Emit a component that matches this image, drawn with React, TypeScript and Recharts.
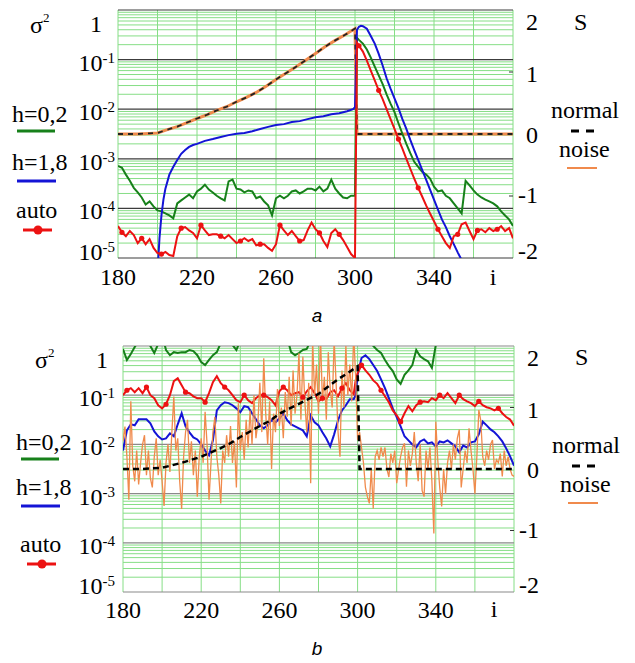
import React from "react";
import { ComposedChart, Line, XAxis, YAxis, ReferenceLine } from "recharts";

const serif = "Liberation Serif, Times New Roman, Tinos, serif";

const GREEN = "#17801a";
const BLUE = "#1414d6";
const RED = "#ec1212";
const ORANGE = "#f08a4c";
const GRID = "#86de86";

const xGrid = [180, 200, 220, 240, 260, 280, 300, 320, 340, 360, 380];
const xLabels = [180, 220, 260, 300, 340];
const logTicks = [1, 0.1, 0.01, 0.001, 1e-4, 1e-5];
const decades = [1e-5, 1e-4, 1e-3, 1e-2, 1e-1];
const minorSteps = [2, 3, 4, 5, 6, 7, 8, 9];
const sTicks = [-2, -1, 0, 1, 2];

// ---- panel a (no noise) : [i, value]
const greenA = [
  [180, 7.2e-4], [182, 6.6e-4], [184, 4.8e-4], [186, 3.6e-4], [188, 2.6e-4], [190, 2.1e-4], [192, 1.66e-4],
  [194, 1.2e-4], [196, 1.38e-4], [198, 1.1e-4], [200, 9.1e-5], [202, 8.7e-5], [204, 7.9e-5], [206, 7.2e-5],
  [208, 6.3e-5], [210, 1.26e-4], [212, 1.45e-4], [214, 1.66e-4], [216, 1.9e-4], [218, 1.6e-4], [220, 2.2e-4],
  [222, 2.5e-4], [224, 3.0e-4], [226, 2.4e-4], [228, 2.1e-4], [230, 1.8e-4], [232, 1.6e-4], [234, 1.45e-4],
  [236, 3.5e-4], [238, 3.8e-4], [240, 2.5e-4], [242, 2.4e-4], [244, 2.1e-4], [246, 2.3e-4], [248, 2.2e-4],
  [250, 1.6e-4], [252, 1.74e-4], [254, 1.38e-4], [256, 1.15e-4], [258, 7.2e-5], [260, 1.6e-4], [262, 1.8e-4],
  [264, 1.6e-4], [266, 1.8e-4], [268, 2.2e-4], [270, 2.3e-4], [272, 2.0e-4], [274, 2.2e-4], [276, 2.5e-4],
  [278, 2.5e-4], [280, 2.3e-4], [282, 2.75e-4], [284, 2.2e-4], [286, 2.5e-4], [288, 3.8e-4], [290, 2.5e-4],
  [292, 2.0e-4], [294, 1.66e-4], [296, 1.6e-4], [298, 1.8e-4], [300, 1.8e-4], [301, 0.275], [302, 0.25],
  [304, 0.21], [306, 0.16], [308, 0.11], [310, 0.072], [312, 0.048], [314, 0.032], [316, 0.02], [318, 0.013],
  [320, 8.7e-3], [322, 5.2e-3], [324, 3.2e-3], [326, 2.0e-3], [328, 1.3e-3], [330, 8.7e-4], [332, 6.9e-4],
  [334, 5.5e-4], [336, 4.8e-4], [338, 4.0e-4], [340, 2.75e-4], [342, 2.2e-4], [344, 2.3e-4], [346, 1.8e-4],
  [348, 1.6e-4], [350, 1.26e-4], [352, 1.0e-4], [354, 7.9e-5], [356, 3.6e-4], [358, 2.9e-4], [360, 2.3e-4],
  [362, 1.9e-4], [364, 1.66e-4], [366, 1.5e-4], [368, 1.38e-4], [370, 1.26e-4], [372, 1.1e-4], [374, 8.7e-5],
  [376, 7.2e-5], [378, 6.0e-5], [380, 4.4e-5],
];

const blueA = [
  [200, 5e-6], [201, 2.5e-5], [202, 7.2e-5], [203, 1.5e-4], [204, 2.5e-4], [206, 4.8e-4], [208, 6.9e-4],
  [210, 9.5e-4], [212, 1.26e-3], [214, 1.5e-3], [216, 1.74e-3], [218, 1.9e-3], [220, 2.0e-3], [224, 2.3e-3],
  [228, 2.5e-3], [232, 2.75e-3], [236, 3.0e-3], [240, 3.2e-3], [244, 3.3e-3], [248, 3.6e-3], [252, 4.0e-3],
  [256, 4.4e-3], [260, 4.8e-3], [264, 5.0e-3], [268, 5.5e-3], [272, 5.75e-3], [276, 6.3e-3], [280, 6.9e-3],
  [284, 7.2e-3], [288, 7.9e-3], [292, 8.3e-3], [296, 9.1e-3], [299, 1.0e-2], [300, 1.1e-2], [301, 0.4],
  [302, 0.46], [303, 0.48], [304, 0.47], [306, 0.42], [308, 0.3], [310, 0.21], [312, 0.13], [314, 0.076],
  [316, 0.042], [318, 0.026], [320, 0.0166], [322, 0.0105], [324, 6.3e-3], [326, 4.0e-3], [328, 2.4e-3],
  [330, 1.5e-3], [332, 9.5e-4], [334, 6.0e-4], [336, 3.8e-4], [338, 2.4e-4], [340, 1.5e-4], [342, 9.5e-5],
  [344, 6.0e-5], [346, 4.2e-5], [348, 2.75e-5], [350, 1.9e-5], [352, 1.3e-5], [354, 9.1e-6], [356, 6.3e-6],
  [358, 4.4e-6], [360, 3.0e-6],
];

const redA = [
  [180, 4.4e-5], [182, 3.3e-5], [184, 2.75e-5], [186, 3.5e-5], [188, 2.9e-5], [190, 2.0e-5], [192, 2.5e-5],
  [194, 1.9e-5], [196, 2.4e-5], [198, 1.6e-5], [200, 1.26e-5], [202, 1.2e-5], [204, 1.32e-5], [206, 1.15e-5],
  [208, 1.1e-5], [210, 2.75e-5], [212, 4.0e-5], [214, 4.2e-5], [216, 3.6e-5], [218, 3.2e-5], [220, 2.5e-5],
  [222, 4.6e-5], [224, 3.6e-5], [226, 2.9e-5], [228, 3.0e-5], [230, 3.0e-5], [232, 2.75e-5], [234, 2.5e-5],
  [236, 2.9e-5], [238, 2.4e-5], [240, 2.0e-5], [242, 2.2e-5], [244, 2.5e-5], [246, 2.2e-5], [248, 2.4e-5],
  [250, 1.8e-5], [252, 1.9e-5], [254, 1.9e-5], [256, 1.6e-5], [258, 1.4e-5], [260, 1.9e-5], [262, 4.6e-5],
  [264, 3.6e-5], [266, 2.9e-5], [268, 3.5e-5], [270, 2.75e-5], [272, 2.2e-5], [274, 2.3e-5], [276, 3.6e-5],
  [278, 5.2e-5], [280, 3.8e-5], [282, 3.2e-5], [284, 2.2e-5], [286, 1.66e-5], [288, 3.2e-5], [290, 3.8e-5],
  [292, 3.0e-5], [294, 2.3e-5], [296, 1.66e-5], [298, 1.2e-5], [300, 1.0e-5], [301, 0.22], [302, 0.19],
  [304, 0.145], [306, 0.095], [308, 0.06], [310, 0.038], [312, 0.024], [314, 0.016], [316, 0.01], [318, 6.3e-3],
  [320, 4.0e-3], [322, 2.5e-3], [324, 1.6e-3], [326, 1.0e-3], [328, 6.3e-4], [330, 4.0e-4], [332, 2.6e-4],
  [334, 1.74e-4], [336, 1.15e-4], [338, 7.9e-5], [340, 5.5e-5], [342, 3.8e-5], [344, 2.75e-5], [346, 2.0e-5],
  [348, 1.6e-5], [350, 2.75e-5], [352, 3.0e-5], [354, 4.8e-5], [356, 5.2e-5], [358, 3.5e-5], [360, 2.4e-5],
  [362, 3.6e-5], [364, 3.8e-5], [366, 3.3e-5], [368, 4.0e-5], [370, 3.5e-5], [372, 3.8e-5], [374, 4.4e-5],
  [376, 3.5e-5], [378, 4.0e-5], [380, 2.5e-5],
];

const normalA = [
  [180, 0], [190, 0], [196, 0.01], [200, 0.016], [205, 0.07], [210, 0.12], [215, 0.185], [220, 0.25],
  [225, 0.31], [230, 0.38], [235, 0.44], [240, 0.52], [245, 0.59], [250, 0.67], [255, 0.77], [260, 0.88],
  [265, 0.98], [270, 1.08], [275, 1.19], [280, 1.3], [285, 1.41], [290, 1.51], [295, 1.6], [300, 1.7],
  [301, 0], [380, 0],
];
// in panel a the noise trace lies on top of the normal one
const noiseA = normalA;

// ---- panel b (with noise)
const greenB = [
  [180, 0.87], [182, 0.52], [184, 0.69], [186, 0.95], [188, 1.3], [190, 1.7], [192, 1.6], [194, 1.0],
  [196, 0.72], [198, 1.1], [200, 1.7], [202, 0.83], [204, 0.65], [206, 0.75], [208, 0.72], [210, 0.75],
  [212, 0.75], [214, 0.83], [216, 0.79], [218, 0.65], [220, 0.47], [222, 0.41], [224, 0.52], [226, 0.65],
  [228, 0.75], [230, 1.15], [232, 1.7], [234, 1.7], [236, 1.05], [238, 0.83], [240, 1.3], [242, 1.7],
  [250, 2], [258, 2], [264, 1.45], [266, 0.75], [268, 0.65], [270, 0.72], [272, 0.83], [274, 0.87],
  [276, 1.3], [278, 1.7], [290, 2], [304, 2], [306, 1.45], [308, 1.0], [310, 0.83], [312, 0.72],
  [314, 0.52], [316, 0.39], [318, 0.31], [320, 0.21], [322, 0.17], [324, 0.26], [326, 0.32], [328, 0.41],
  [330, 0.83], [332, 0.62], [334, 0.54], [336, 0.49], [338, 0.36], [340, 1.05], [342, 1.7], [360, 2], [380, 2],
];

const blueB = [
  [180, 0.0075], [182, 0.0193], [184, 0.0256], [186, 0.0244], [188, 0.0324], [190, 0.0324], [192, 0.0324],
  [194, 0.0268], [196, 0.0184], [198, 0.0146], [200, 0.0126], [202, 0.0132], [204, 0.0168], [206, 0.0146],
  [208, 0.0256], [210, 0.043], [212, 0.0233], [214, 0.0176], [216, 0.0139], [218, 0.0126], [220, 0.01],
  [222, 0.0075], [224, 0.006], [226, 0.0121], [228, 0.049], [230, 0.0625], [232, 0.072], [234, 0.069],
  [236, 0.0625], [238, 0.054], [240, 0.045], [242, 0.06], [244, 0.057], [246, 0.043], [248, 0.0324],
  [250, 0.0244], [252, 0.0212], [254, 0.0244], [256, 0.031], [258, 0.028], [260, 0.034], [262, 0.043],
  [264, 0.031], [266, 0.0256], [268, 0.0233], [270, 0.0212], [272, 0.0193], [274, 0.0146], [276, 0.039],
  [278, 0.028], [280, 0.0244], [282, 0.0176], [284, 0.0132], [286, 0.0091], [288, 0.016], [290, 0.031],
  [292, 0.049], [294, 0.0625], [296, 0.083], [298, 0.083], [299, 0.1], [300, 0.256], [302, 0.57], [304, 0.65],
  [306, 0.54], [308, 0.41], [310, 0.31], [312, 0.21], [314, 0.139], [316, 0.087], [318, 0.054], [320, 0.036],
  [322, 0.0233], [324, 0.0146], [326, 0.0121], [328, 0.01], [330, 0.0087], [332, 0.0115], [334, 0.0126],
  [336, 0.0105], [338, 0.011], [340, 0.0091], [342, 0.0115], [344, 0.011], [346, 0.0121], [348, 0.0105],
  [350, 0.0091], [352, 0.0069], [354, 0.0095], [356, 0.0087], [358, 0.011], [360, 0.0115], [362, 0.016],
  [364, 0.029], [366, 0.0244], [368, 0.0202], [370, 0.0176], [372, 0.0146], [374, 0.0115], [376, 0.0083],
  [378, 0.0057], [380, 0.0037],
];

const redB = [
  [180, 0.1], [182, 0.126], [184, 0.139], [186, 0.115], [188, 0.139], [190, 0.11], [192, 0.146], [194, 0.1],
  [196, 0.087], [198, 0.0625], [200, 0.054], [202, 0.0655], [204, 0.1], [206, 0.193], [208, 0.222], [210, 0.16],
  [212, 0.115], [214, 0.11], [216, 0.095], [218, 0.087], [220, 0.087], [222, 0.072], [224, 0.11], [226, 0.184],
  [228, 0.244], [230, 0.176], [232, 0.146], [234, 0.126], [236, 0.1], [238, 0.079], [240, 0.072], [242, 0.1],
  [244, 0.079], [246, 0.069], [248, 0.087], [250, 0.1], [252, 0.1], [254, 0.091], [256, 0.079], [258, 0.0625],
  [260, 0.12], [262, 0.146], [264, 0.126], [266, 0.1], [268, 0.11], [270, 0.115], [272, 0.091], [274, 0.12],
  [276, 0.146], [278, 0.11], [280, 0.075], [282, 0.087], [284, 0.083], [286, 0.115], [288, 0.126], [290, 0.095],
  [292, 0.139], [294, 0.176], [296, 0.126], [298, 0.105], [299, 0.2], [300, 0.28], [302, 0.41], [304, 0.32],
  [306, 0.26], [308, 0.2], [310, 0.17], [312, 0.126], [314, 0.095], [316, 0.072], [318, 0.049], [320, 0.039],
  [322, 0.029], [324, 0.043], [326, 0.06], [328, 0.047], [330, 0.0625], [332, 0.072], [334, 0.075], [336, 0.072],
  [338, 0.087], [340, 0.079], [342, 0.1], [344, 0.087], [346, 0.11], [348, 0.087], [350, 0.069], [352, 0.1],
  [354, 0.083], [356, 0.075], [358, 0.069], [360, 0.06], [362, 0.075], [364, 0.0625], [366, 0.057], [368, 0.054],
  [370, 0.049], [372, 0.054], [374, 0.043], [376, 0.036], [378, 0.032], [380, 0.024],
];

const normalB = [
  [180, 0], [190, 0], [200, 0.02], [205, 0.06], [210, 0.1], [215, 0.15], [220, 0.2], [225, 0.27],
  [230, 0.34], [235, 0.42], [240, 0.52], [245, 0.61], [250, 0.7], [255, 0.78], [260, 0.9], [265, 0.98],
  [270, 1.06], [275, 1.14], [280, 1.22], [285, 1.34], [290, 1.46], [295, 1.56], [300, 1.67], [301, 0], [380, 0],
];

// noisy S, one value per i from 180 to 380
const noiseB = [
  0.45, 0.69, 0.2, -0.5, 1.1, 0.05, -0.2, 0.3, -0.25, 0.1,
  0.4, 0.55, -0.1, 0.3, -0.15, -0.3, 0.2, 0.5, -0.1, 0.15,
  -0.2, -0.6, 0.1, 0.4, -0.05, 0.6, 1.18, 0.3, 0.5, -0.2,
  -0.65, 0.2, 0.6, 0.8, 0.1, 0.45, -0.1, 0.3, -0.45, 0.2,
  0.5, 0.1, 0.93, 0.4, -0.5, 0.1, 0.6, 0.85, 0.2, -0.1,
  -0.56, 0.3, 0.1, 0.55, 0.2, 0.7, 0.1, 0.45, -0.3, 1.07,
  0.3, 0.6, 0.15, 0.8, 0.35, 0.95, 0.4, 1.2, 0.5, 0.75,
  1.4, 0.6, 1.8, 0.9, 0.4, 1.1, 0.0, 0.9, 0.6, 1.3,
  0.7, 1.0, 0.5, 1.25, 0.85, 1.5, 0.7, 1.6, 0.9, 1.2,
  1.88, 0.8, 1.83, 1.1, 0.6, 1.4, -0.23, 2.1, 1.2, 1.7,
  0.9, 2.2, 1.1, 1.5, 0.8, 1.9, 1.3, 1.0, 2.1, 1.4,
  0.6, 0.2, 1.6, 1.0, 2.0, 1.2, 1.7, 1.1, 2.2, 1.5,
  0.47, 0.6, 0.35, 0.1, -0.3, -0.45, -0.56, 0.0, -0.64, 0.2,
  0.3, 0.15, 0.35, 0.2, 0.35, 0.0, -0.13, 0.25, 0.1, 0.3,
  -0.23, 0.0, 0.2, 0.35, 0.42, -0.29, 0.3, 0.05, 0.25, 0.6,
  0.1, -0.2, 0.4, -0.35, -0.45, 0.3, 0.0, 0.35, -0.2, -1.05,
  0.77, 0.15, -0.3, -0.61, 0.0, -0.4, 0.1, 0.3, 0.0, 0.4,
  0.15, 0.5, 0.64, -0.3, 0.0, 0.3, 0.1, 0.66, 0.3, 0.0,
  -0.4, 0.2, 0.96, 0.79, 0.2, 0.05, 0.3, 0.15, 0.4, 0.47,
  0.0, 0.15, 0.1, 0.25, -0.12, 0.3, 0.05, 0.2, 0.0, -0.1,
  -0.12,
];

const rows = (pts: number[][]) => pts.map(([i, v]) => ({ i, v }));
const noiseRows = noiseB.map((v, k) => ({ i: 180 + k, v }));

const txt = { style: { fontFamily: serif, fontSize: 24 }, fill: "#000" };

const xTick = (baseline: number) => (p: any) => (
  <text x={p.x} y={baseline} textAnchor="middle" {...txt}>{p.payload.value}</text>
);

const logTick = (oneRight: number, tenRight: number) => (p: any) => {
  const v = p.payload.value;
  if (v === 1) return <text x={oneRight} y={p.y + 22} textAnchor="end" {...txt}>1</text>;
  const k = Math.round(-Math.log10(v));
  const base = k === 5 ? p.y + 2 : p.y + 11;
  return (
    <text x={tenRight} y={base} textAnchor="end" {...txt}>
      10<tspan dy={-8} style={{ fontSize: 15 }}>-{k}</tspan>
    </text>
  );
};

const sDy: Record<string, number> = { "2": 20, "1": 10, "0": 9, "-1": 7, "-2": 1 };
const sTick = (textRight: number, plotRight: number) => (p: any) => {
  const v = p.payload.value;
  return (
    <g>
      <text x={textRight} y={p.y + sDy[String(v)]} textAnchor="end" {...txt}>
        {v < 0 ? `-${-v}` : String(v)}
      </text>
      {Math.abs(v) === 1 && <line x1={plotRight - 4} x2={plotRight} y1={p.y} y2={p.y} stroke="#333" />}
    </g>
  );
};

const redDot = (p: any) =>
  p.payload.i % 10 === 2 ? (
    <circle key={p.index} cx={p.cx} cy={p.cy} r={2.6} fill={RED} stroke="none" />
  ) : (
    <g key={p.index} />
  );

function gridLines(decadeColor: string) {
  const out: React.ReactNode[] = [];
  xGrid.forEach((x) =>
    out.push(<ReferenceLine key={`x${x}`} x={x} yAxisId="L" stroke={GRID} strokeWidth={1} />)
  );
  decades.forEach((d) =>
    minorSteps.forEach((m) =>
      out.push(<ReferenceLine key={`m${d}-${m}`} y={d * m} yAxisId="L" stroke={GRID} strokeWidth={1} />)
    )
  );
  logTicks.forEach((d) =>
    out.push(<ReferenceLine key={`d${d}`} y={d} yAxisId="L" stroke={decadeColor} strokeWidth={1.2} />)
  );
  return out;
}

function Legend({ top, h, p }: { top: number; h: number; p: any }) {
  return (
    <svg width={635} height={h} style={{ position: "absolute", left: 0, top, pointerEvents: "none" }}>
      <text x={p.sx} y={p.sy} {...txt}>
        σ<tspan dy={-11} style={{ fontSize: 13 }}>2</tspan>
      </text>
      <text x={p.lx} y={p.g} {...txt}>h=0,2</text>
      <line x1={p.lx + 5} x2={p.lx + 43} y1={p.g + 9} y2={p.g + 9} stroke={GREEN} strokeWidth={3} />
      <text x={p.lx} y={p.b} {...txt}>h=1,8</text>
      <line x1={p.lx + 5} x2={p.lx + 44} y1={p.b + 11} y2={p.b + 11} stroke={BLUE} strokeWidth={3} />
      <text x={p.lx + 4} y={p.r} {...txt}>auto</text>
      <line x1={p.lx + 11} x2={p.lx + 40} y1={p.r + 12} y2={p.r + 12} stroke={RED} strokeWidth={3} />
      <circle cx={p.lx + 26} cy={p.r + 12} r={4.5} fill={RED} />
      <text x={p.rx + 23} y={p.sy - 3} {...txt}>S</text>
      <text x={p.rx} y={p.n} {...txt}>normal</text>
      <line x1={p.rx + 20} x2={p.rx + 43} y1={p.n + 13} y2={p.n + 13} stroke="#000" strokeWidth={3} strokeDasharray="8 7" />
      <text x={p.rx + 8} y={p.n + 39} {...txt}>noise</text>
      <line x1={p.rx + 16} x2={p.rx + 46} y1={p.n + 50} y2={p.n + 50} stroke={ORANGE} strokeWidth={2} />
      <text x={p.ix} y={p.iy} textAnchor="middle" {...txt}>i</text>
      <text x={317} y={p.tag} textAnchor="middle" fill="#000"
        style={{ fontFamily: "Liberation Sans, Arial, sans-serif", fontStyle: "italic", fontSize: 19 }}>
        {p.label}
      </text>
    </svg>
  );
}

export default function App() {
  return (
    <div style={{ position: "absolute", left: 0, top: 0, width: 635, height: 663, background: "#fff" }}>
      {/* panel a */}
      <div style={{ position: "absolute", left: 0, top: 0 }}>
        <ComposedChart width={635} height={300} margin={{ top: 10, right: 62, bottom: 12, left: 58 }}>
          <XAxis dataKey="i" type="number" domain={[180, 380]} ticks={xLabels} allowDataOverflow
            axisLine={false} tickLine={false} height={30} tick={xTick(285)} interval={0} />
          <YAxis yAxisId="L" scale="log" domain={[1e-5, 1]} allowDataOverflow ticks={logTicks} interval={0}
            width={60} axisLine={false} tickLine={false} tick={logTick(102, 115)} />
          <YAxis yAxisId="R" orientation="right" domain={[-2, 2]} allowDataOverflow ticks={sTicks} interval={0}
            width={60} axisLine={false} tickLine={false} tick={sTick(538, 513)} />
          {gridLines("#3c3c3c")}
          <Line yAxisId="R" data={rows(noiseA)} dataKey="v" stroke={ORANGE} strokeWidth={3} dot={false} isAnimationActive={false} />
          <Line yAxisId="R" data={rows(normalA)} dataKey="v" stroke="#222" strokeWidth={1.8} strokeDasharray="5 5" dot={false} isAnimationActive={false} />
          <Line yAxisId="L" data={rows(greenA)} dataKey="v" stroke={GREEN} strokeWidth={2} dot={false} isAnimationActive={false} />
          <Line yAxisId="L" data={rows(blueA)} dataKey="v" stroke={BLUE} strokeWidth={2} dot={false} isAnimationActive={false} />
          <Line yAxisId="L" data={rows(redA)} dataKey="v" stroke={RED} strokeWidth={2} dot={redDot} isAnimationActive={false} />
        </ComposedChart>
      </div>
      <Legend top={0} h={330} p={{ sx: 30, sy: 33, lx: 12, g: 122, b: 170, r: 218, rx: 551, n: 118, ix: 493, iy: 285, tag: 322, label: "a" }} />

      {/* panel b */}
      <div style={{ position: "absolute", left: 0, top: 330 }}>
        <ComposedChart width={635} height={300} margin={{ top: 16, right: 61, bottom: 8, left: 63 }}>
          <XAxis dataKey="i" type="number" domain={[180, 380]} ticks={xLabels} allowDataOverflow
            axisLine={false} tickLine={false} height={30} tick={xTick(288)} interval={0} />
          <YAxis yAxisId="L" scale="log" domain={[1e-5, 1]} allowDataOverflow ticks={logTicks} interval={0}
            width={60} axisLine={false} tickLine={false} tick={logTick(108, 115)} />
          <YAxis yAxisId="R" orientation="right" domain={[-2, 2]} allowDataOverflow ticks={sTicks} interval={0}
            width={60} axisLine={false} tickLine={false} tick={sTick(539, 514)} />
          {gridLines("#8a8a8a")}
          <Line yAxisId="L" data={rows(greenB)} dataKey="v" stroke={GREEN} strokeWidth={2} dot={false} isAnimationActive={false} />
          <Line yAxisId="L" data={rows(blueB)} dataKey="v" stroke={BLUE} strokeWidth={2} dot={false} isAnimationActive={false} />
          <Line yAxisId="L" data={rows(redB)} dataKey="v" stroke={RED} strokeWidth={2} dot={redDot} isAnimationActive={false} />
          <Line yAxisId="R" data={noiseRows} dataKey="v" stroke={ORANGE} strokeWidth={1.3} dot={false} isAnimationActive={false} />
          <Line yAxisId="R" data={rows(normalB)} dataKey="v" stroke="#000" strokeWidth={2.5} strokeDasharray="6 4" dot={false} isAnimationActive={false} />
        </ComposedChart>
      </div>
      <Legend top={330} h={333} p={{ sx: 35, sy: 38, lx: 16, g: 120, b: 165, r: 222, rx: 552, n: 123, ix: 494, iy: 287, tag: 325, label: "b" }} />
    </div>
  );
}
